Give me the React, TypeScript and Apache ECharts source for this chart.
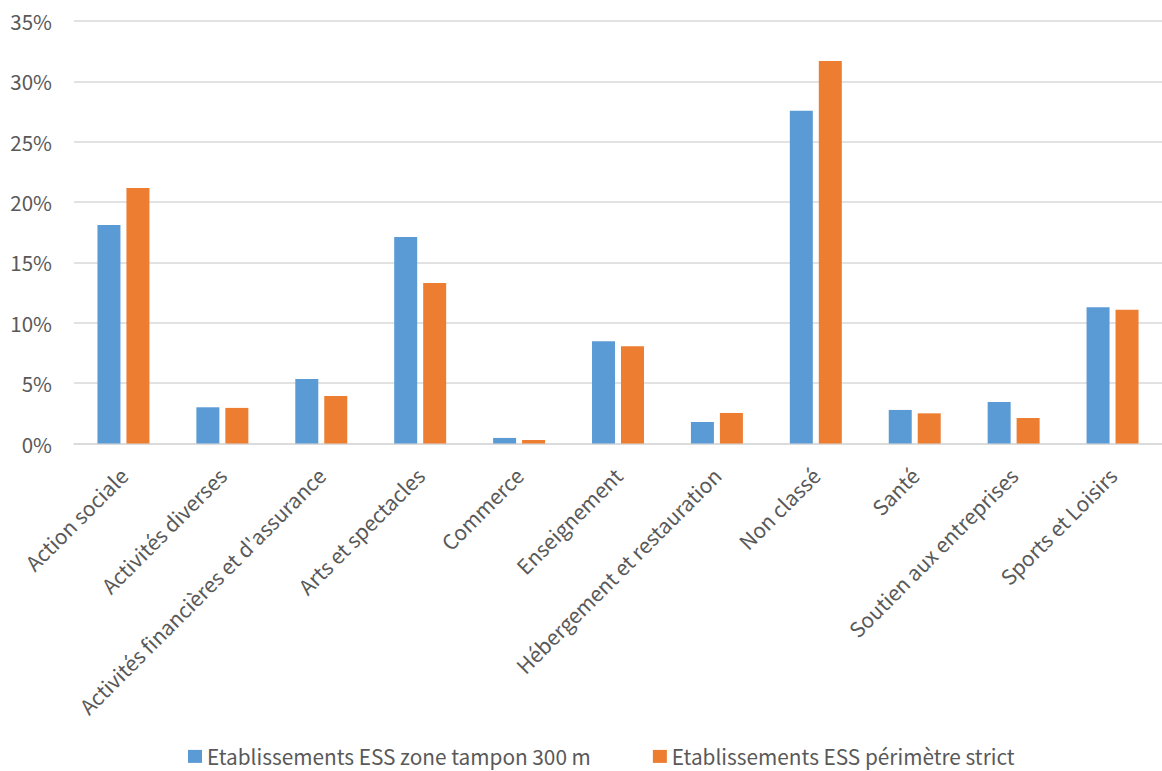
import React, { useEffect, useRef } from "react";
import * as echarts from "echarts";

const categories = [
  "Action sociale",
  "Activités diverses",
  "Activités financières et d'assurance",
  "Arts et spectacles",
  "Commerce",
  "Enseignement",
  "Hébergement et restauration",
  "Non classé",
  "Santé",
  "Soutien aux entreprises",
  "Sports et Loisirs",
];

const seriesNames = [
  "Etablissements ESS zone tampon 300 m",
  "Etablissements ESS périmètre strict",
];

const zoneTampon = [18.1, 3.0, 5.35, 17.1, 0.46, 8.47, 1.78, 27.57, 2.78, 3.44, 11.29];
const perimetreStrict = [21.16, 2.95, 3.94, 13.3, 0.29, 8.06, 2.53, 31.69, 2.5, 2.11, 11.07];

const FONT = "'Noto Sans CJK SC', 'Open Sans', sans-serif";
const TEXT_COLOR = "#595959";

export default function App() {
  const ref = useRef<HTMLDivElement>(null);
  useEffect(() => {
    if (!ref.current) return;
    const chart = echarts.init(ref.current, undefined, { renderer: "svg" });
    chart.setOption({
      animation: false,
      backgroundColor: "#ffffff",
      textStyle: { fontFamily: FONT },
      grid: { left: 74, right: -11, top: 21, bottom: 327.5, containLabel: false },
      legend: {
        data: seriesNames,
        left: 188,
        top: 746,
        padding: 0,
        itemWidth: 14,
        itemHeight: 13,
        itemGap: 62,
        icon: "rect",
        textStyle: { color: TEXT_COLOR, fontSize: 20.8, fontFamily: FONT },
      },
      xAxis: {
        type: "category",
        data: categories,
        axisLine: { show: true, lineStyle: { color: "#D9D9D9", width: 1.5 } },
        axisTick: { show: false },
        axisLabel: {
          rotate: 45,
          interval: 0,
          margin: 28,
          color: TEXT_COLOR,
          fontSize: 20.8,
          fontFamily: FONT,
        },
      },
      yAxis: {
        type: "value",
        min: 0,
        max: 35,
        interval: 5,
        axisLine: { show: false },
        axisTick: { show: false },
        splitLine: { lineStyle: { color: "#D9D9D9", width: 1.5 } },
        axisLabel: {
          formatter: "{value}%",
          color: TEXT_COLOR,
          fontSize: 20.5,
          fontFamily: FONT,
          margin: 22,
        },
      },
      series: [
        {
          name: seriesNames[0],
          type: "bar",
          data: zoneTampon,
          barWidth: 23,
          barGap: "26%",
          itemStyle: { color: "#5B9BD5" },
        },
        {
          name: seriesNames[1],
          type: "bar",
          data: perimetreStrict,
          barWidth: 23,
          itemStyle: { color: "#ED7D31" },
        },
      ],
    });
    return () => chart.dispose();
  }, []);
  return (
    <div
      ref={ref}
      style={{ position: "fixed", left: 0, top: 0, width: 1162, height: 771, background: "#fff" }}
    />
  );
}
